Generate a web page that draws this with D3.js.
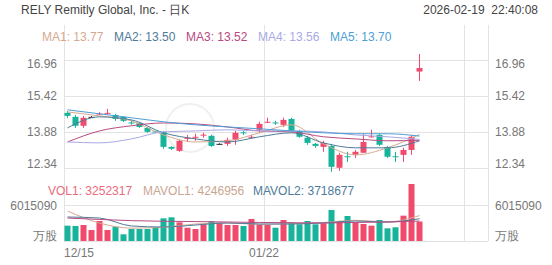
<!DOCTYPE html>
<html>
<head>
    <title>RELY K</title>
    <script src="https://d3js.org/d3.v7.min.js"></script>
    <style>
        body { margin: 0; background: #fff; }
        text { font-family: "Liberation Sans", Arial, sans-serif; }
    </style>
</head>
<body>
    <div id="chart"></div>
    <script>
        // daily candles, 12/15 .. 02/19
        const opens  = [14.69,14.52,14.14,14.52,14.63,14.65,14.60,14.52,14.28,14.26,14.05,13.90,13.88,13.24,13.07,13.58,13.65,13.73,13.71,13.37,13.37,13.54,13.86,13.63,13.97,14.29,14.28,14.18,14.43,13.92,13.63,13.37,13.24,13.28,12.35,12.84,12.90,12.99,13.65,13.75,13.24,12.84,12.90,13.11,16.45];
        const highs  = [14.77,14.60,14.56,14.55,14.72,14.86,14.65,14.55,14.37,14.30,14.09,13.93,13.92,13.26,13.54,13.75,13.80,13.84,13.76,13.39,13.63,13.92,13.92,13.75,14.31,14.48,14.35,14.48,14.48,13.97,13.71,13.41,13.50,13.37,12.99,13.03,13.11,13.80,13.97,13.80,13.28,13.03,13.20,13.75,17.20];
        const lows   = [14.48,14.05,14.05,14.50,14.60,14.62,14.35,14.30,14.18,14.05,13.84,13.84,13.16,13.11,13.03,13.45,13.50,13.63,13.24,13.35,13.28,13.33,13.75,13.58,13.84,14.26,14.18,14.09,13.88,13.63,13.33,13.20,13.03,12.18,12.22,12.60,12.77,12.99,13.63,13.28,12.77,12.60,12.60,12.90,16.05];
        const closes = [14.56,14.14,14.48,14.52,14.66,14.69,14.43,14.35,14.26,14.09,13.88,13.88,13.24,13.16,13.50,13.63,13.67,13.76,13.28,13.37,13.54,13.84,13.82,13.67,14.22,14.31,14.26,14.39,13.92,13.67,13.41,13.28,13.41,12.39,12.90,12.82,13.03,13.45,13.69,13.33,12.82,12.82,13.11,13.67,16.60];
        const volumes = [2560000,2510000,2670000,1840000,3340000,1840000,2390000,1120000,2000000,2000000,2000000,2170000,3790000,3960000,3120000,2220000,2000000,2790000,3290000,3060000,2670000,2670000,2510000,3680000,2750000,2670000,2220000,3510000,3120000,2790000,3340000,2790000,2960000,5180000,3340000,4180000,3120000,2840000,2560000,3510000,2120000,2290000,4230000,9520000,3252317];

        // moving averages at a few candles
        const maIdx = [0,4,8,12,16,20,24,28,32,36,40,44];
        const ma1 = [14.73,14.56,14.35,13.75,13.45,13.50,13.84,14.18,13.37,12.90,13.20,13.77];
        const ma2 = [14.05,14.52,14.39,13.84,13.58,13.45,13.67,13.84,13.41,13.20,13.20,13.50];
        const ma3 = [13.45,13.92,14.14,14.26,14.22,14.09,13.92,13.88,13.67,13.58,13.50,13.52];
        const ma4 = [13.45,13.41,13.58,13.88,13.92,13.97,13.92,13.92,13.88,13.75,13.67,13.56];
        const ma5 = [14.82,14.65,14.48,14.31,14.18,14.09,14.01,13.92,13.84,13.80,13.80,13.70];
        const maNames = ["MA1", "MA2", "MA3", "MA4", "MA5"];
        const maColors = ["#d6a98f", "#4e7b9b", "#b84a82", "#a9a9e6", "#4d9fd6"];

        const mavolIdx = [0,4,8,12,16,20,24,28,32,36,40,44];
        const mavol1 = [5010000,3000000,2150000,2300000,2840000,3010000,2800000,2900000,3100000,3450000,3200000,4246956];
        const mavol2 = [4010000,3840000,2510000,2340000,2670000,3010000,2840000,2840000,3010000,3340000,3170000,3718677];
        const mavol3 = [3840000,3600000,3400000,3300000,3250000,3170000,3100000,3050000,3010000,3100000,3170000,3340000];

        const priceTicks = [16.96, 15.42, 13.88, 12.34];
        const volTick = 6015090;
        const dateTickIdx = [0, 25, 50];
        const dateTickLabels = ["12/15", "01/22", ""];

        const W = 552, H = 265;
        const left = 64, right = 488;
        const red = "#f04a6c", green = "#17b49b", doji = "#222";
        const grid = "#e3e3e3", axisText = "#777";

        const svg = d3.select("#chart").append("svg")
            .attr("width", W).attr("height", H)
            .style("background-color", "#fff");

        const x = d3.scaleBand().domain(d3.range(53)).range([left, right]);
        const cx = i => x(i) + x.bandwidth() / 2 - 0.5;
        const y = d3.scaleLinear().domain([12.34, 16.96]).range([168, 59.6]);
        const yv = d3.scaleLinear().domain([0, volTick]).range([241, 205]);

        // grid
        svg.append("g").selectAll("line").data(priceTicks).enter().append("line")
            .attr("x1", left).attr("x2", right)
            .attr("y1", d => Math.round(y(d)) + 0.5).attr("y2", d => Math.round(y(d)) + 0.5)
            .style("stroke", grid);
        svg.append("line").attr("x1", left).attr("x2", right)
            .attr("y1", Math.round(yv(volTick)) + 0.5).attr("y2", Math.round(yv(volTick)) + 0.5)
            .style("stroke", grid);
        svg.append("line").attr("x1", left).attr("x2", right)
            .attr("y1", 241.5).attr("y2", 241.5).style("stroke", grid);
        svg.append("g").selectAll("line").data(dateTickIdx.concat([53])).enter().append("line")
            .attr("x1", d => (d < 53 ? x(d) : right) + 0.5).attr("x2", d => (d < 53 ? x(d) : right) + 0.5)
            .attr("y1", 25).attr("y2", 241)
            .style("stroke", grid);

        // watermark
        svg.append("circle").attr("cx", 190).attr("cy", 128).attr("r", 24)
            .style("fill", "none").style("stroke", "#f0f0f0").style("stroke-width", 2);

        // price axis labels
        const labelY = v => Math.max(64, Math.min(164, y(v)));
        ["start", "end"].forEach(anchor => {
            svg.append("g").selectAll("text").data(priceTicks).enter().append("text")
                .attr("x", anchor === "end" ? 57 : 495)
                .attr("y", d => labelY(d)).attr("dy", "0.35em")
                .attr("text-anchor", anchor)
                .style("font-size", "12px").style("fill", axisText)
                .text(d => d.toFixed(2));
            svg.append("text").attr("x", anchor === "end" ? 57 : 495).attr("y", 206).attr("dy", "0.35em")
                .attr("text-anchor", anchor).style("font-size", "12px").style("fill", axisText)
                .text(volTick);
            svg.append("text").attr("x", anchor === "end" ? 57 : 495).attr("y", 236).attr("dy", "0.35em")
                .attr("text-anchor", anchor).style("font-size", "12px").style("fill", axisText)
                .text("万股");
        });

        // date labels
        svg.append("g").selectAll("text").data(dateTickIdx).enter().append("text")
            .attr("x", d => x(d) === undefined ? 0 : x(d))
            .attr("y", 253).attr("dy", "0.35em")
            .attr("text-anchor", (d, i) => i === 0 ? "start" : "middle")
            .style("font-size", "12px").style("fill", axisText)
            .text((d, i) => dateTickLabels[i]);

        const candles = d3.range(opens.length).map(i => ({
            i: i, o: opens[i], h: highs[i], l: lows[i], c: closes[i], v: volumes[i]
        }));
        const colorOf = d => d.c > d.o ? red : (d.c < d.o ? green : doji);

        // volume bars
        svg.append("g").selectAll("rect").data(candles).enter().append("rect")
            .attr("x", d => cx(d.i) - 3).attr("width", 6)
            .attr("y", d => yv(d.v)).attr("height", d => yv(0) - yv(d.v))
            .style("fill", d => d.c >= d.o ? red : green);

        // candles
        const cg = svg.append("g").selectAll("g").data(candles).enter().append("g");
        cg.append("line")
            .attr("x1", d => cx(d.i)).attr("x2", d => cx(d.i))
            .attr("y1", d => y(d.h)).attr("y2", d => y(d.l))
            .style("stroke", colorOf).style("stroke-width", 1);
        cg.append("rect")
            .attr("x", d => cx(d.i) - 3).attr("width", 6)
            .attr("y", d => y(Math.max(d.o, d.c)))
            .attr("height", d => Math.max(1, Math.abs(y(d.o) - y(d.c))))
            .style("fill", colorOf);

        // MA lines
        const maLine = d3.line().x(d => cx(d[0])).y(d => y(d[1])).curve(d3.curveMonotoneX);
        [ma1, ma2, ma3, ma4, ma5].forEach((s, k) => {
            svg.append("path").datum(maIdx.map((idx, j) => [idx, s[j]]))
                .attr("d", maLine)
                .style("fill", "none").style("stroke", maColors[k]).style("stroke-width", 1);
        });
        const volLine = d3.line().x(d => cx(d[0])).y(d => yv(d[1])).curve(d3.curveMonotoneX);
        [[mavol1, "#d6a98f"], [mavol2, "#4e7b9b"], [mavol3, "#b84a82"]].forEach(p => {
            svg.append("path").datum(mavolIdx.map((idx, j) => [idx, p[0][j]]))
                .attr("d", volLine)
                .style("fill", "none").style("stroke", p[1]).style("stroke-width", 1);
        });

        // header
        svg.append("text").attr("x", 21).attr("y", 10).attr("dy", "0.35em")
            .style("font-size", "12px").style("fill", "#444")
            .text("RELY Remitly Global, Inc. - 日K");
        svg.append("text").attr("x", 538).attr("y", 10).attr("dy", "0.35em")
            .attr("text-anchor", "end")
            .style("font-size", "12px").style("fill", "#444")
            .text("2026-02-19  22:40:08").attr("xml:space", "preserve");

        // MA legend
        const maLast = [ma1, ma2, ma3, ma4, ma5].map(s => s[s.length - 1]);
        svg.append("g").selectAll("text").data(maNames).enter().append("text")
            .attr("x", (d, i) => 42 + i * 72).attr("y", 37).attr("dy", "0.35em")
            .style("font-size", "12px").style("fill", (d, i) => maColors[i])
            .text((d, i) => d + ": " + maLast[i].toFixed(2));

        // volume legend
        const volLegend = [
            ["VOL1: " + volumes[volumes.length - 1], "#ec6a7e", 48],
            ["MAVOL1: " + mavol1[mavol1.length - 1], "#c9a690", 143],
            ["MAVOL2: " + mavol2[mavol2.length - 1], "#4e7b9b", 253]
        ];
        svg.append("g").selectAll("text").data(volLegend).enter().append("text")
            .attr("x", d => d[2]).attr("y", 191).attr("dy", "0.35em")
            .style("font-size", "12px").style("fill", d => d[1])
            .text(d => d[0]);
    </script>
</body>
</html>
